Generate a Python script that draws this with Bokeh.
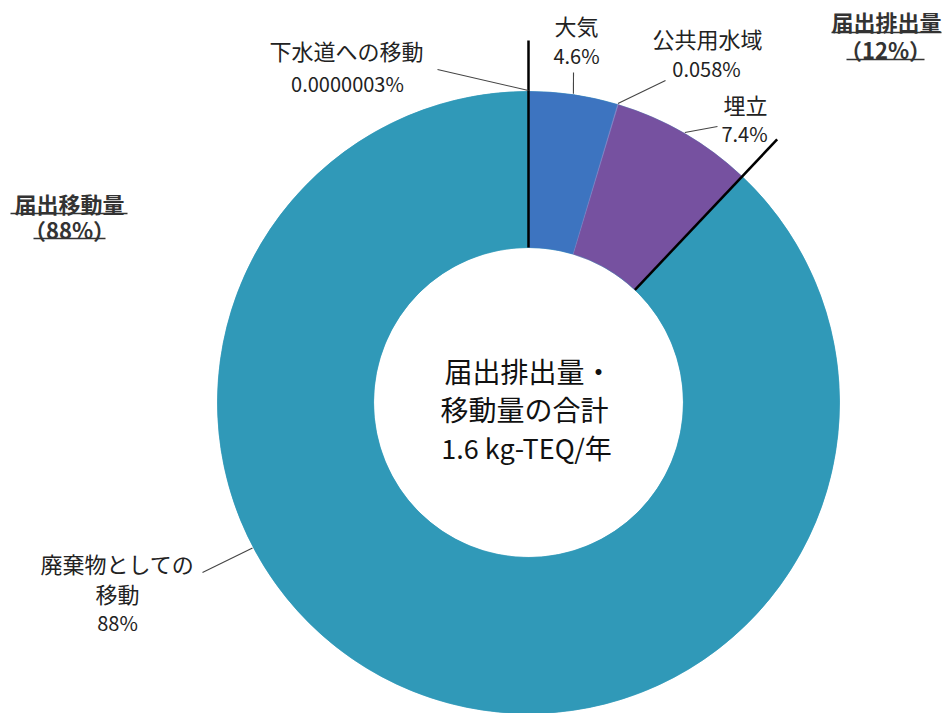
import math
from bokeh.plotting import figure
from bokeh.models import Range1d, ColumnDataSource
from bokeh.core.properties import value
from bokeh.embed import file_html
from bokeh.resources import INLINE

# ---------------- data ----------------
categories = ["大気", "公共用水域", "埋立", "廃棄物としての移動", "下水道への移動"]
shares = [4.6, 0.058, 7.4, 88.0, 0.0000003]
pct_labels = ["4.6%", "0.058%", "7.4%", "88%", "0.0000003%"]
group_names = ["届出排出量", "届出移動量"]
group_pcts = ["（12%）", "（88%）"]
center_lines = ["届出排出量・", "移動量の合計", "1.6 kg-TEQ/年"]

# ---------------- style / layout ----------------
W, H = 952, 713
colors = ["#3D74C0", "#8A86C8", "#7651A0", "#3099B8", "#3099B8"]
FONT = value("Noto Sans CJK JP")
CX, CY_PX = 528, 402
R_OUT, R_IN = 311, 155
R_SEP = 362


def py(y_px):
    return H - y_px


CY = py(CY_PX)

p = figure(width=W, height=H, x_range=Range1d(0, W), y_range=Range1d(0, H),
           output_backend="svg", toolbar_location=None, min_border=0,
           min_border_left=0, min_border_right=0, min_border_top=0, min_border_bottom=0)
p.axis.visible = False
p.grid.visible = False
p.outline_line_color = None
p.background_fill_color = "white"

total = sum(shares)
fr = [s / total for s in shares]
cum = [0.0]
for f in fr:
    cum.append(cum[-1] + f)

starts = [math.pi / 2 - 2 * math.pi * cum[i] for i in range(len(fr))]
ends = [math.pi / 2 - 2 * math.pi * cum[i + 1] for i in range(len(fr))]
# draw in reverse order so that the tiny last slice sits underneath everything
order = list(range(len(fr)))[::-1]
src = ColumnDataSource(dict(x=[CX] * len(fr), y=[CY] * len(fr),
                            start=[starts[i] for i in order], end=[ends[i] for i in order],
                            color=[colors[i] for i in order],
                            cat=[categories[i] for i in order]))
p.annular_wedge(x="x", y="y", inner_radius=R_IN, outer_radius=R_OUT,
                start_angle="start", end_angle="end", direction="clock",
                fill_color="color", line_color="color", line_width=0.5, source=src)


def pt(theta_frac, r):
    th = 2 * math.pi * theta_frac
    return CX + r * math.sin(th), CY + r * math.cos(th)


# separator lines between 届出排出量 (first three) and 届出移動量
sep_fracs = [0.0, cum[3]]
sx0, sy0, sx1, sy1 = [], [], [], []
for f in sep_fracs:
    a = pt(f, R_IN)
    b = pt(f, R_SEP)
    sx0.append(a[0]); sy0.append(a[1]); sx1.append(b[0]); sy1.append(b[1])
p.segment(sx0, sy0, sx1, sy1, line_color="black", line_width=2.5)

# leader lines: (anchor angle fraction on ring, outer end in px)
mids = [(cum[i] + cum[i + 1]) / 2 for i in range(len(fr))]
leader_anchor = [mids[0], mids[1], mids[2], 242.2 / 360.0, 1.0]
leader_end_px = [(573, 72), (665, 80), (717, 126), (202, 572), (437, 69)]
lx0, ly0, lx1, ly1 = [], [], [], []
for a, (ex, ey) in zip(leader_anchor, leader_end_px):
    q = pt(a, R_OUT + 1)
    lx0.append(q[0]); ly0.append(q[1]); lx1.append(ex); ly1.append(py(ey))
p.segment(lx0, ly0, lx1, ly1, line_color="#444444", line_width=1.1)

# slice labels
name_pos = [(576, 24), (707, 37), (745, 103), None, (346, 49)]
pct_pos = [(576, 55), (706, 68), (744, 133), (117, 622), (347, 83)]
tx, ty, tt = [], [], []
for i in range(len(categories)):
    if name_pos[i] is not None:
        tx.append(name_pos[i][0]); ty.append(py(name_pos[i][1])); tt.append(categories[i])
# waste label split over two lines
tx += [117, 117]; ty += [py(562), py(592)]
tt += [categories[3][:-2], categories[3][-2:]]
p.text(tx, ty, text=tt, text_align="center", text_baseline="middle",
       text_font=FONT, text_font_size="22px", text_color="#222222")

px_, py_, pt_ = [], [], []
for i in range(len(categories)):
    px_.append(pct_pos[i][0]); py_.append(py(pct_pos[i][1])); pt_.append(pct_labels[i])
p.text(px_, py_, text=pt_, text_align="center", text_baseline="middle",
       text_font=FONT, text_font_size="20px", text_color="#222222")

# group labels (bold, underlined)
g_pos = [((886, 20), (885, 48)), ((69, 202), (69, 228))]
g_ul = [((831, 941, 32), (846, 924, 59)), ((10, 127, 213), (33, 105, 238))]
gx, gy, gt = [], [], []
ux0, ux1, uy = [], [], []
for i in range(2):
    (a, b) = g_pos[i]
    gx += [a[0], b[0]]; gy += [py(a[1]), py(b[1])]
    gt += [group_names[i], group_pcts[i]]
    for (x0, x1, yy) in g_ul[i]:
        ux0.append(x0); ux1.append(x1); uy.append(py(yy))
p.text(gx, gy, text=gt, text_align="center", text_baseline="middle",
       text_font=FONT, text_font_size="22px", text_font_style="bold", text_color="#333333")
p.segment(ux0, uy, ux1, uy, line_color="#333333", line_width=1.5)

# center text
p.text([528, 524], [py(370), py(408)], text=center_lines[:2], text_align="center",
       text_baseline="middle", text_font=FONT, text_font_size="28px", text_color="#111111")
p.text([526], [py(447)], text=[center_lines[2]], text_align="center",
       text_baseline="middle", text_font=FONT, text_font_size="27px", text_color="#111111")

open("out.html", "w").write(file_html(p, INLINE))
